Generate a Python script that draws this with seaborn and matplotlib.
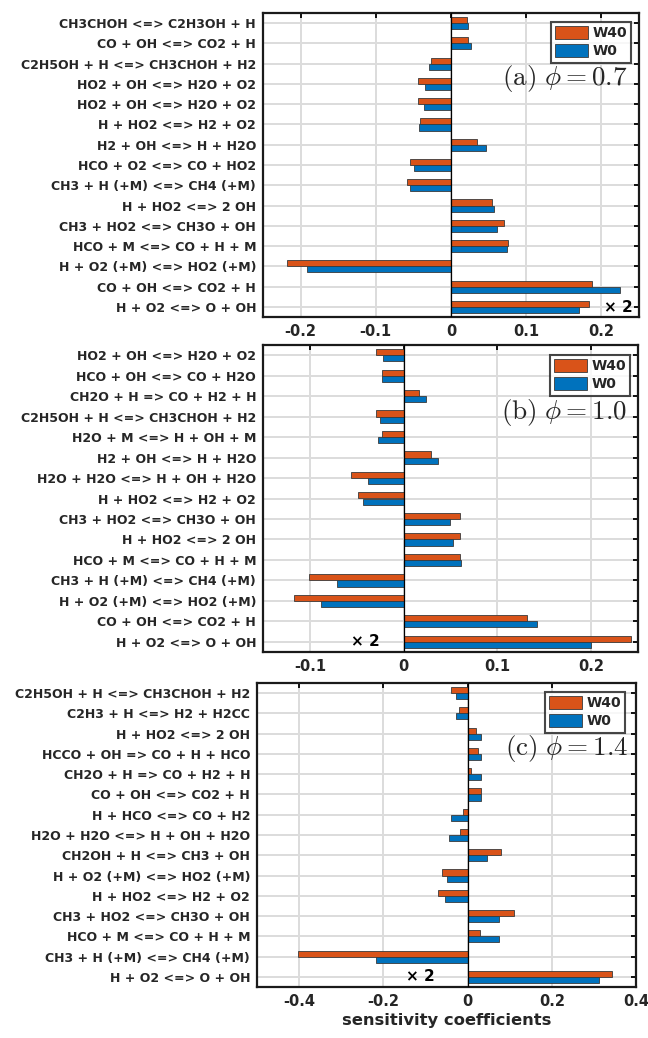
import numpy as np
import pandas as pd
import matplotlib
matplotlib.use("Agg")
import matplotlib.pyplot as plt
import seaborn as sns

sns.set_theme(style="white")
plt.rcParams['font.family'] = ['DejaVu Sans']
plt.rcParams['mathtext.fontset'] = 'cm'

# ---------------- data ----------------
labels_a = ["CH3CHOH <=> C2H3OH + H", "CO + OH <=> CO2 + H",
            "C2H5OH + H <=> CH3CHOH + H2", "HO2 + OH <=> H2O + O2",
            "HO2 + OH <=> H2O + O2", "H + HO2 <=> H2 + O2",
            "H2 + OH <=> H + H2O", "HCO + O2 <=> CO + HO2",
            "CH3 + H (+M) <=> CH4 (+M)", "H + HO2 <=> 2 OH",
            "CH3 + HO2 <=> CH3O + OH", "HCO + M <=> CO + H + M",
            "H + O2 (+M) <=> HO2 (+M)", "CO + OH <=> CO2 + H",
            "H + O2 <=> O + OH"]
w40_a = [0.021, 0.023, -0.027, -0.044, -0.044, -0.041, 0.035, -0.054,
         -0.058, 0.054, 0.070, 0.076, -0.218, 0.187, 0.184]
w0_a = [0.023, 0.026, -0.029, -0.034, -0.036, -0.042, 0.047, -0.049,
        -0.054, 0.057, 0.061, 0.075, -0.191, 0.225, 0.170]

labels_b = ["HO2 + OH <=> H2O + O2", "HCO + OH <=> CO + H2O",
            "CH2O + H => CO + H2 + H", "C2H5OH + H <=> CH3CHOH + H2",
            "H2O + M <=> H + OH + M", "H2 + OH <=> H + H2O",
            "H2O + H2O <=> H + OH + H2O", "H + HO2 <=> H2 + O2",
            "CH3 + HO2 <=> CH3O + OH", "H + HO2 <=> 2 OH",
            "HCO + M <=> CO + H + M", "CH3 + H (+M) <=> CH4 (+M)",
            "H + O2 (+M) <=> HO2 (+M)", "CO + OH <=> CO2 + H",
            "H + O2 <=> O + OH"]
w40_b = [-0.030, -0.023, 0.016, -0.029, -0.023, 0.029, -0.056, -0.049,
         0.060, 0.060, 0.060, -0.101, -0.117, 0.132, 0.242]
w0_b = [-0.022, -0.023, 0.024, -0.025, -0.027, 0.037, -0.038, -0.043,
        0.049, 0.053, 0.061, -0.071, -0.088, 0.142, 0.200]

labels_c = ["C2H5OH + H <=> CH3CHOH + H2", "C2H3 + H <=> H2 + H2CC",
            "H + HO2 <=> 2 OH", "HCCO + OH => CO + H + HCO",
            "CH2O + H => CO + H2 + H", "CO + OH <=> CO2 + H",
            "H + HCO <=> CO + H2", "H2O + H2O <=> H + OH + H2O",
            "CH2OH + H <=> CH3 + OH", "H + O2 (+M) <=> HO2 (+M)",
            "H + HO2 <=> H2 + O2", "CH3 + HO2 <=> CH3O + OH",
            "HCO + M <=> CO + H + M", "CH3 + H (+M) <=> CH4 (+M)",
            "H + O2 <=> O + OH"]
w40_c = [-0.039, -0.020, 0.019, 0.024, 0.009, 0.033, -0.012, -0.017,
         0.080, -0.060, -0.071, 0.110, 0.029, -0.402, 0.343]
w0_c = [-0.027, -0.027, 0.031, 0.031, 0.033, 0.033, -0.039, -0.044,
        0.045, -0.048, -0.053, 0.074, 0.074, -0.217, 0.312]

cases = ["W40", "W0"]
panel_titles = [r"$\mathrm{(a)}\ \phi = 0.7$", r"$\mathrm{(b)}\ \phi = 1.0$",
                r"$\mathrm{(c)}\ \phi = 1.4$"]
xticks_a = [-0.2, -0.1, 0, 0.1, 0.2]
xticks_b = [-0.1, 0, 0.1, 0.2]
xticks_c = [-0.4, -0.2, 0, 0.2, 0.4]
xlabel_text = "sensitivity coefficients"
scale_note = "\u00d7 2"

# ---------------- styling / layout ----------------
colors = {"W40": "#D95319", "W0": "#0072BD"}
W, H = 648, 1038
fig = plt.figure(figsize=(W / 100, H / 100), dpi=100)

def px_axes(left, right, top, bottom):
    return fig.add_axes([left / W, 1 - bottom / H, (right - left) / W, (bottom - top) / H])

panels = [
    dict(labels=labels_a, w40=w40_a, w0=w0_a, xt=xticks_a, xlim=(-0.25, 0.25),
         box=(263, 639, 13, 317), title=panel_titles[0], tpos=(0.968, 0.786),
         npos=(0.984, 0.030), leg=(631, 22)),
    dict(labels=labels_b, w40=w40_b, w0=w0_b, xt=xticks_b, xlim=(-0.15, 0.25),
         box=(263, 638, 345, 652), title=panel_titles[1], tpos=(0.971, 0.779),
         npos=(0.312, 0.033), leg=(630, 355)),
    dict(labels=labels_c, w40=w40_c, w0=w0_c, xt=xticks_c, xlim=(-0.5, 0.4),
         box=(257, 636, 683, 987), title=panel_titles[2], tpos=(0.979, 0.786),
         npos=(0.470, 0.036), leg=(625, 692)),
]

for i, p in enumerate(panels):
    l, r, t, b = p["box"]
    ax = px_axes(l, r, t, b)
    n = len(p["labels"])
    df = pd.DataFrame({
        "row": list(range(n)) * 2,
        "value": list(p["w40"]) + list(p["w0"]),
        "case": ["W40"] * n + ["W0"] * n,
    })
    sns.barplot(data=df, x="value", y="row", hue="case", hue_order=cases,
                orient="h", palette=colors, saturation=1, width=0.6,
                errorbar=None, edgecolor="#3a3a3a", linewidth=0.6, ax=ax,
                zorder=3)
    ax.set_yticks(range(n))
    ax.set_yticklabels(p["labels"], fontsize=9.0, fontweight="bold", color="#262626")
    ax.set_ylim(n - 0.5, -0.5)
    ax.set_xlim(*p["xlim"])
    ax.set_xticks(p["xt"])
    ax.set_xticklabels([f"{v:g}" for v in p["xt"]], fontsize=10.5,
                       fontweight="bold", color="#262626")
    ax.set_ylabel("")
    ax.set_xlabel("")
    ax.set_axisbelow(True)
    ax.grid(True, color="#dcdcdc", linewidth=1.4)
    ax.axvline(0, color="black", linewidth=0.9, zorder=4)
    ax.tick_params(direction="in", top=True, right=True, length=3.5, width=1.3,
                   color="black")
    ax.tick_params(axis="y", pad=5)
    ax.tick_params(axis="x", pad=5)
    for s in ax.spines.values():
        s.set_visible(True)
        s.set_color("#1a1a1a")
        s.set_linewidth(1.6)
    # legend
    handles, labs = ax.get_legend_handles_labels()
    lx = (p["leg"][0] - l) / (r - l)
    ly = 1 - (p["leg"][1] - t) / (b - t)
    leg = ax.legend(handles, labs, loc="upper right", bbox_to_anchor=(lx, ly),
                    borderaxespad=0, frameon=True, fancybox=False,
                    prop={"weight": "bold", "size": 10}, handlelength=2.4,
                    handleheight=1.0, handletextpad=0.3, labelspacing=0.3,
                    borderpad=0.3)
    leg.get_frame().set_edgecolor("#1a1a1a")
    leg.get_frame().set_linewidth(1.5)
    leg.set_zorder(10)
    # phi label
    ax.text(p["tpos"][0], p["tpos"][1], p["title"], transform=ax.transAxes,
            ha="right", va="center", fontsize=19.5, color="#262626", zorder=11)
    # x2 note
    ax.text(p["npos"][0], p["npos"][1], scale_note, transform=ax.transAxes,
            ha="right", va="center", fontsize=11, fontweight="bold",
            color="black", zorder=11)
    if i == 2:
        ax.set_xlabel(xlabel_text, fontsize=11.8, fontweight="bold",
                      color="#262626", labelpad=3)

fig.savefig("out.png", dpi=100)
